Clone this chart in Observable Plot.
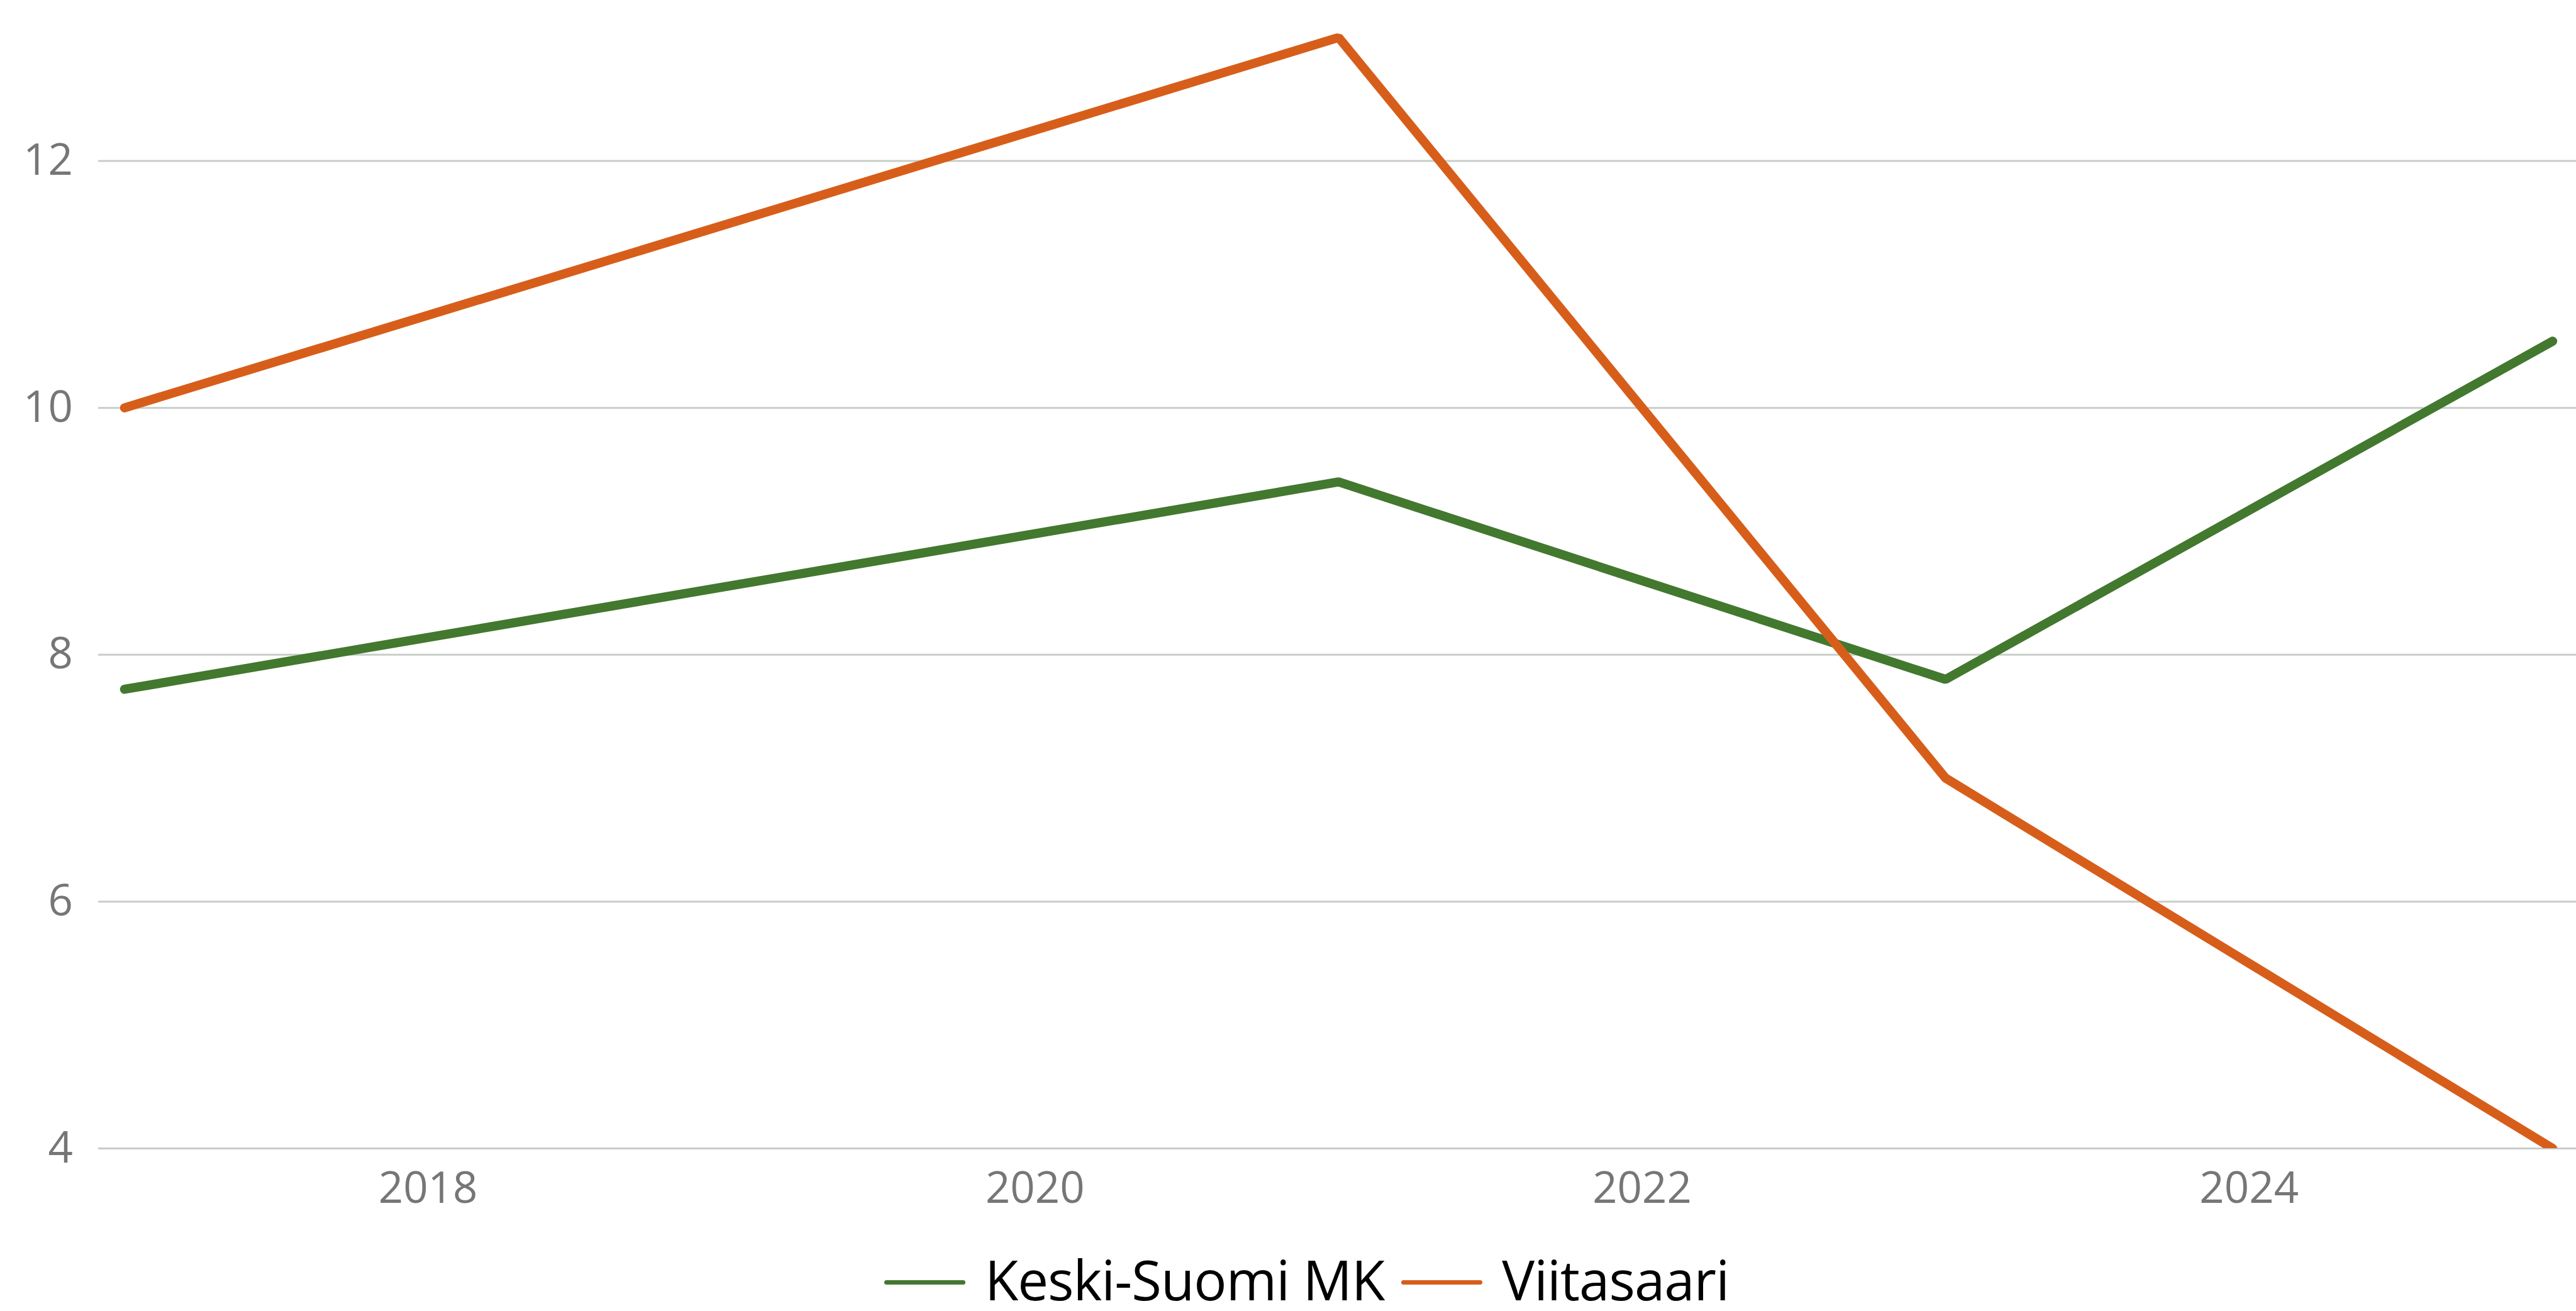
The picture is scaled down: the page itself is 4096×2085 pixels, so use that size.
<!DOCTYPE html>
<html><head><meta charset="utf-8">
<script src="https://cdn.jsdelivr.net/npm/d3@7"></script>
<script src="https://cdn.jsdelivr.net/npm/@observablehq/plot@0.6"></script>
<style>
html,body{margin:0;padding:0;background:#fff;width:4096px;height:2085px;overflow:hidden;}
#chart{position:absolute;left:0;top:0;}
#legend{position:absolute;left:1406px;top:1991px;display:flex;align-items:center;font-family:"Open Sans";font-size:87px;letter-spacing:-1px;line-height:1;height:87px;color:#000;white-space:nowrap;}
.sw{width:129px;height:7px;border-radius:3.5px;position:relative;top:4.5px;flex:none;}
.lt{margin-left:31px;margin-right:27px;}
</style></head><body>
<div id="chart"></div>
<div id="legend"></div>
<script>
const years = [2017, 2021, 2023, 2025];
const keskiSuomi = [7.72, 9.40, 7.80, 10.54];
const viitasaari = [10.0, 13.0, 7.0, 4.0];
const seriesNames = ["Keski-Suomi MK", "Viitasaari"];
const seriesColors = ["#43782f", "#d75e1a"];
const yTicks = [4, 6, 8, 10, 12];
const xTicks = [2018, 2020, 2022, 2024];

const data = [];
years.forEach((y, i) => data.push({year: y, value: keskiSuomi[i], series: seriesNames[0]}));
years.forEach((y, i) => data.push({year: y, value: viitasaari[i], series: seriesNames[1]}));

const chart = Plot.plot({
  width: 4096,
  height: 1960,
  marginTop: 53.3,
  marginBottom: 134,
  marginLeft: 156,
  marginRight: 0,
  x: {domain: [2016.914, 2025.078]},
  y: {domain: [4, 13.03]},
  color: {domain: seriesNames, range: seriesColors},
  style: {fontFamily: "Open Sans", fontSize: "69px", color: "#767676", background: "transparent"},
  marks: [
    Plot.ruleY(yTicks, {stroke: "#c8cdc8", strokeWidth: 3}),
    Plot.axisY(yTicks, {tickSize: 0, tickPadding: 40.5, fontSize: 69, fill: "#767676", label: null, tickFormat: d => String(d)}),
    Plot.axisX(xTicks, {tickSize: 0, tickPadding: 37, fontSize: 69, fill: "#767676", label: null, tickFormat: d => String(d)}),
    Plot.line(data, {x: "year", y: "value", z: "series", stroke: "series", strokeWidth: 14.5,
      strokeLinecap: "round", strokeLinejoin: "miter", clip: true})
  ]
});
document.getElementById("chart").appendChild(chart);

const legend = document.getElementById("legend");
seriesNames.forEach((name, i) => {
  const sw = document.createElement("div");
  sw.className = "sw";
  sw.style.background = seriesColors[i];
  legend.appendChild(sw);
  const t = document.createElement("span");
  t.className = "lt";
  t.textContent = name;
  legend.appendChild(t);
});
</script>
</body></html>
